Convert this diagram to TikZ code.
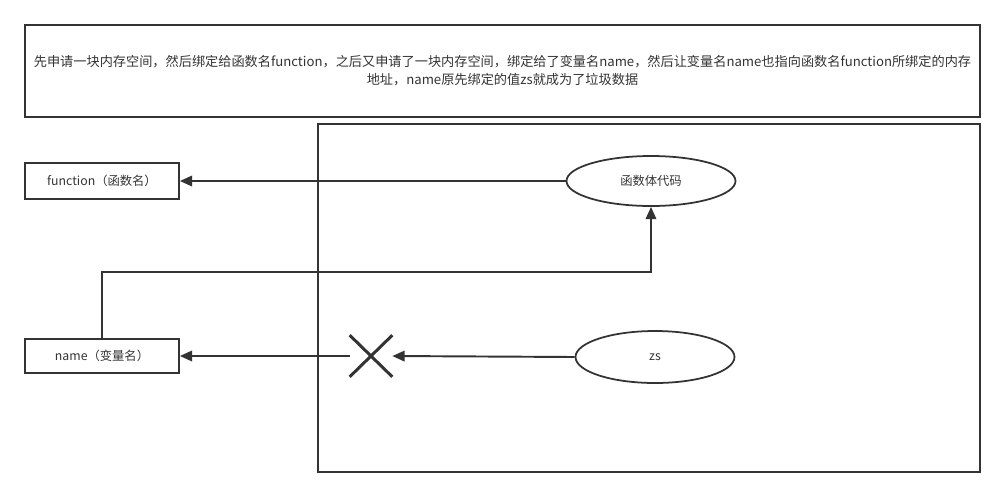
\documentclass[tikz,border=0pt]{standalone}
\usepackage{fontspec}
\setmainfont{Noto Sans CJK SC}
\usetikzlibrary{arrows.meta,shapes.geometric}
\definecolor{ink}{HTML}{333333}

\tikzset{
  box/.style={draw=ink,line width=1pt,inner sep=0pt,text=ink},
  blob/.style={ellipse,draw=ink,line width=1pt,inner sep=0pt,text=ink},
  link/.style={draw=ink,line width=1.1pt,-{Triangle[length=7pt,width=6pt]}}
}

\begin{document}
\begin{tikzpicture}[x=0.02cm,y=-0.02cm,font=\fontsize{7}{10}\selectfont]
  \useasboundingbox (0,0) rectangle (1005,498);
  % note on top
  \node[box,minimum width=19.1cm,minimum height=1.84cm,align=center,font=\fontsize{7.5}{10.2}\selectfont] (note) at (502.5,71)
    {先申请一块内存空间，然后绑定给函数名function，之后又申请了一块内存空间，绑定给了变量名name，然后让变量名name也指向函数名function所绑定的内存\\地址，name原先绑定的值zs就成为了垃圾数据};
  % memory area
  \node[box,minimum width=13.24cm,minimum height=6.96cm] (heap) at (649,298) {};
  \node[box,minimum width=3.08cm,minimum height=0.72cm] (func) at (102,181) {function（函数名）};
  \node[box,minimum width=3.08cm,minimum height=0.68cm] (name) at (102,356) {name（变量名）};
  \node[blob,minimum width=3.38cm,minimum height=1cm] (fbody) at (651,181) {函数体代码};
  \node[blob,minimum width=3.18cm,minimum height=1.04cm] (zs) at (655,357) {zs};
  \node[minimum width=0.84cm,minimum height=0.82cm,inner sep=0pt] (cross) at (371,356) {};
  \draw[ink,line width=1.7pt] (cross.north west) -- (cross.south east);
  \draw[ink,line width=1.7pt] (cross.south west) -- (cross.north east);
  \coordinate (turn) at (102,272);
  % connectors
  \draw[link] (fbody.west) -- (func.east);
  \draw[link] (name.north) -- (turn) -| (fbody.south);
  \draw[link] (zs.west) -- (cross.east);
  \draw[link] (cross.west) -- (name.east);
\end{tikzpicture}
\end{document}
